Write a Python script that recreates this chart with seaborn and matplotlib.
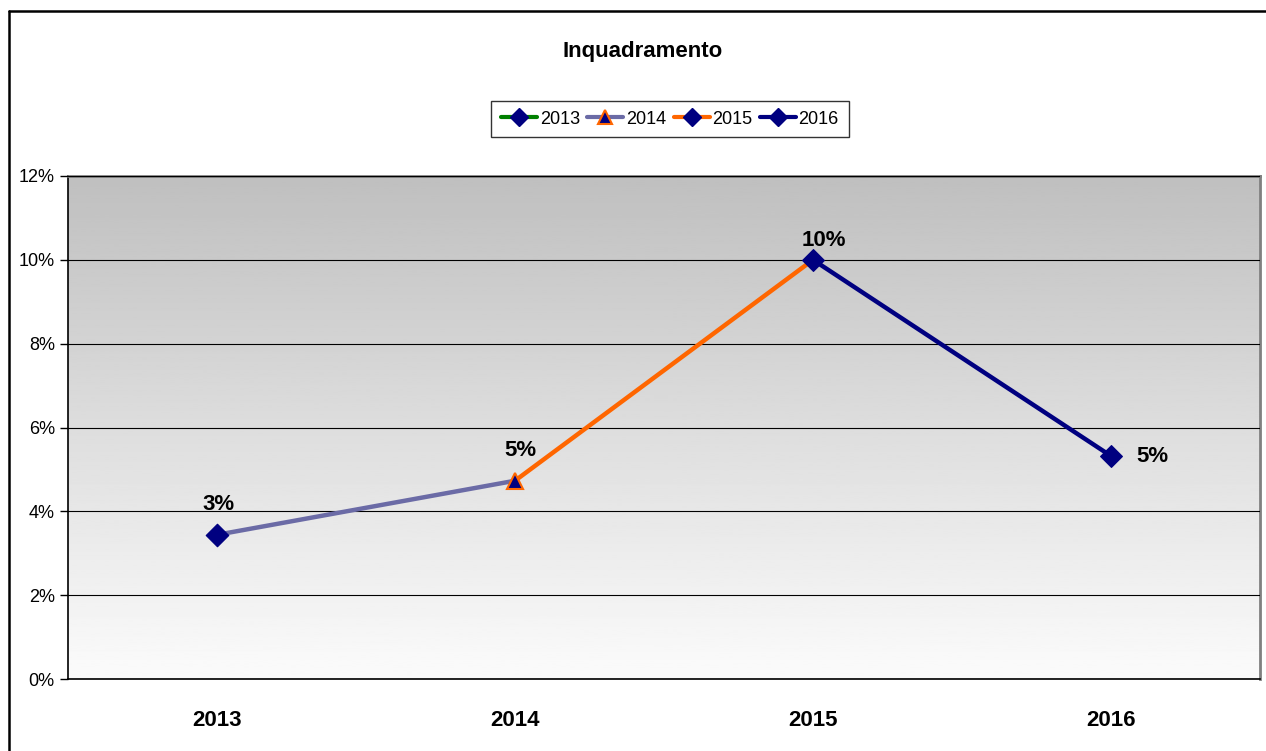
import numpy as np
import pandas as pd
import matplotlib
matplotlib.use("Agg")
import matplotlib.pyplot as plt
from matplotlib.lines import Line2D
import seaborn as sns

sns.set_style("white")
plt.rcParams['font.family'] = ['Liberation Sans Narrow', 'Liberation Sans', 'DejaVu Sans']
plt.rcParams['text.color'] = 'black'
plt.rcParams['xtick.color'] = 'black'
plt.rcParams['ytick.color'] = 'black'
plt.rcParams['axes.labelcolor'] = 'black'

# data
years = ["2013", "2014", "2015", "2016"]
values = [0.0344, 0.0473, 0.100, 0.0532]
series_names = ["2013", "2014", "2015", "2016"]
yticks = [0, 0.02, 0.04, 0.06, 0.08, 0.10, 0.12]

navy = "#000080"
slate = "#6B6BA6"
orange = "#FF6600"
green = "#008000"

df = pd.DataFrame({"year": years, "value": values})
df["pos"] = range(len(years))

fig = plt.figure(figsize=(12.66, 7.51), dpi=100)
ax = fig.add_axes([68 / 1266, 72 / 751, 1192 / 1266, 503 / 751])

# gradient plot area (light at bottom, grey at top)
grad = np.linspace(0.985, 0.75, 256).reshape(-1, 1)
ax.imshow(grad, extent=[0, 1, 0, 1], transform=ax.transAxes, cmap="gray",
          vmin=0, vmax=1, aspect="auto", origin="lower", zorder=0)

# 2014 segment: 2013 -> 2014
seg = df.iloc[0:2]
sns.lineplot(data=seg, x="pos", y="value", ax=ax, color=slate, lw=3.2, zorder=3)
ax.plot(seg["pos"].iloc[1], seg["value"].iloc[1], marker="^", ms=12, mfc=navy,
        mec=orange, mew=1.5, zorder=5)
# 2015 segment: 2014 -> 2015
seg = df.iloc[1:3]
sns.lineplot(data=seg, x="pos", y="value", ax=ax, color=orange, lw=3.2, zorder=3)
# 2016 segment: 2015 -> 2016
seg = df.iloc[2:4]
sns.lineplot(data=seg, x="pos", y="value", ax=ax, color=navy, lw=3.2, zorder=4,
             marker="D", ms=11, mfc=navy, mec=navy)
# 2013 point
sns.scatterplot(data=df.iloc[0:1], x="pos", y="value", ax=ax, marker="D", s=130,
                color=navy, edgecolor=navy, zorder=6)

# data labels
offsets = [(1, 22), (4, 22), (8, 14), (30, 0)]
for (p, v), off in zip(zip(df["pos"], df["value"]), offsets):
    ax.annotate(f"{v:.0%}", (p, v), xytext=off, textcoords="offset points",
                ha="center", va="center", fontsize=16, fontweight="bold", zorder=7)

ax.set_xlim(-0.5, len(years) - 0.5)
ax.set_ylim(0, 0.12)
ax.set_yticks(yticks)
ax.set_yticklabels([f"{t:.0%}" for t in yticks], fontsize=13)
ax.yaxis.grid(True, color="black", lw=0.8)
ax.set_axisbelow(False)
for gl in ax.get_ygridlines():
    gl.set_zorder(1)

ax.set_xticks(range(len(years)))
ax.set_xticklabels(years, fontsize=16, fontweight="bold")
ax.set_xticks(np.arange(-0.5, len(years)), minor=True)
ax.tick_params(axis="x", which="major", length=0, pad=22)
ax.tick_params(axis="x", which="minor", length=7, direction="out", color="black", width=1)
ax.tick_params(axis="y", length=6, direction="out", color="black", width=1, left=True)
ax.set_xlabel("")
ax.set_ylabel("")

ax.spines["left"].set_color("black")
ax.spines["bottom"].set_color("black")
ax.spines["left"].set_linewidth(1.2)
ax.spines["bottom"].set_linewidth(1.2)
ax.spines["top"].set_color("#808080")
ax.spines["right"].set_color("#808080")
ax.spines["top"].set_linewidth(2)
ax.spines["right"].set_linewidth(2)

# title
fig.text(643 / 1266, 1 - 52 / 751, "Inquadramento", ha="center", va="center",
         fontsize=16, fontweight="bold")

# legend
handles = [
    Line2D([], [], color=green, lw=3, marker="D", ms=9, mfc=navy, mec=navy),
    Line2D([], [], color=slate, lw=3, marker="^", ms=10, mfc=navy, mec=orange, mew=1.5),
    Line2D([], [], color=orange, lw=3, marker="D", ms=9, mfc=navy, mec=navy),
    Line2D([], [], color=navy, lw=3, marker="D", ms=9, mfc=navy, mec=navy),
]
leg = fig.legend(handles, series_names, loc="center", ncol=4,
                 bbox_to_anchor=(670 / 1266, 1 - 119 / 751), fontsize=13,
                 frameon=True, fancybox=False, handlelength=2.0, handletextpad=0.15,
                 columnspacing=0.4, borderpad=0.55, borderaxespad=0)
leg.get_frame().set_edgecolor("black")
leg.get_frame().set_linewidth(1)

# outer chart border
fig.add_artist(Line2D([9 / 1266, 9 / 1266], [0, 1 - 11 / 751], color="black",
                      lw=1.8, transform=fig.transFigure))
fig.add_artist(Line2D([9 / 1266, 1], [1 - 11 / 751, 1 - 11 / 751], color="black",
                      lw=1.8, transform=fig.transFigure))

fig.savefig("out.png", dpi=100)
